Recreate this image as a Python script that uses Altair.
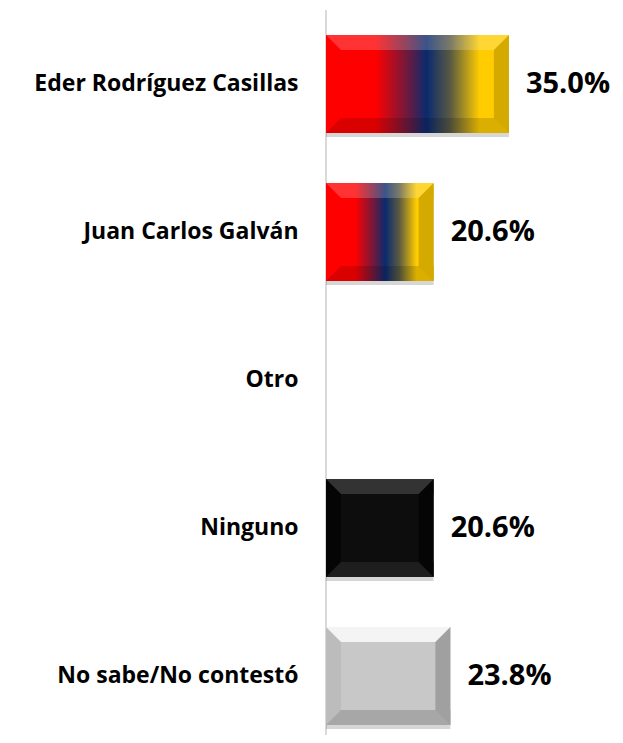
import altair as alt
import pandas as pd

categories = ["Eder Rodríguez Casillas", "Juan Carlos Galván", "Otro", "Ninguno", "No sabe/No contestó"]
values = [35.0, 20.6, 0.0, 20.6, 23.8]
value_labels = ["35.0%", "20.6%", "", "20.6%", "23.8%"]

df = pd.DataFrame({"cat": categories, "v": values, "lab": value_labels})

flag = alt.LinearGradient(
    gradient="linear", x1=0, x2=1, y1=0, y2=0,
    stops=[
        alt.GradientStop(offset=0.0, color="#FF0000"),
        alt.GradientStop(offset=0.27, color="#FF0000"),
        alt.GradientStop(offset=0.45, color="#6A1A40"),
        alt.GradientStop(offset=0.55, color="#0A2A6E"),
        alt.GradientStop(offset=0.68, color="#5A5A42"),
        alt.GradientStop(offset=0.84, color="#FFCC00"),
        alt.GradientStop(offset=1.0, color="#FFCC00"),
    ],
)

# style per category: face fill, bevel overlays (color, opacity), solid side colours for corners
STYLE = {
    "flag": dict(face=flag, top=("white", 0.2), bottom=("black", 0.14), left=("black", 0.0),
                 right=("black", 0.17), lc="#FF0000", rc="#D4A900"),
    "black": dict(face="#0D0D0D", top=("white", 0.16), bottom=("white", 0.07), left=("black", 0.6),
                  right=("black", 0.6), lc="#050505", rc="#050505"),
    "grey": dict(face="#C8C8C8", top=("white", 0.8), bottom=("black", 0.16), left=("black", 0.06),
                 right=("black", 0.2), lc="#BCBCBC", rc="#A0A0A0"),
}
STYLE_OF = {
    "Eder Rodríguez Casillas": "flag",
    "Juan Carlos Galván": "flag",
    "Ninguno": "black",
    "No sabe/No contestó": "grey",
}

BAR_H = 98
BEVEL = 15
EDGE = (BAR_H - BEVEL) / 2

TRI_TL = "M-1,-1L-1,1L1,1Z"
TRI_BL = "M-1,-1L1,-1L-1,1Z"
TRI_TR = "M1,-1L1,1L-1,1Z"
TRI_BR = "M-1,-1L1,-1L1,1Z"

y_enc = alt.Y(
    "cat:N",
    sort=categories,
    scale=alt.Scale(domain=categories, paddingInner=0.338, paddingOuter=0.068),
    axis=alt.Axis(
        title=None, ticks=False, tickSize=0, domain=False, grid=False,
        labelFont="Open Sans", labelFontWeight="bold", labelFontSize=23,
        labelColor="black", labelPadding=28, labelLimit=400,
    ),
)
x_scale = alt.Scale(domain=[0, 55.3])
x_enc = alt.X("v:Q", scale=x_scale, axis=None)
z_enc = alt.X("z:Q", scale=x_scale, axis=None)

base = alt.Chart(df).transform_calculate(z="0")

layers = []
layers.append(
    base.mark_rule(color="#D9D9D9", strokeWidth=2).encode(
        x=z_enc, y=alt.value(-15), y2=alt.value(722)
    )
)

for cat, key in STYLE_OF.items():
    s = STYLE[key]
    b = base.transform_filter(alt.datum.cat == cat)
    # shadow
    layers.append(b.mark_bar(color="#000000", opacity=0.16, yOffset=4, y2Offset=4).encode(
        x=x_enc, x2="z:Q", y=y_enc))
    # face
    layers.append(b.mark_bar(fill=s["face"]).encode(x=x_enc, x2="z:Q", y=y_enc))
    # top bevel
    c, o = s["top"]
    layers.append(b.mark_bar(color=c, opacity=o, height=BEVEL, yOffset=-EDGE).encode(
        x=x_enc, x2="z:Q", y=y_enc))
    # bottom bevel
    c, o = s["bottom"]
    layers.append(b.mark_bar(color=c, opacity=o, height=BEVEL, yOffset=EDGE).encode(
        x=x_enc, x2="z:Q", y=y_enc))
    # left bevel
    c, o = s["left"]
    if o > 0:
        layers.append(b.mark_bar(color=c, opacity=o, height=BAR_H - 2 * BEVEL, xOffset=BEVEL).encode(
            x=z_enc, x2="z:Q", y=y_enc))
    # right bevel
    c, o = s["right"]
    layers.append(b.mark_bar(color=c, opacity=o, height=BAR_H - 2 * BEVEL, xOffset=-BEVEL).encode(
        x=x_enc, x2="v:Q", y=y_enc))
    # mitred corners
    for shape, xe, dx, dy, col in [
        (TRI_TL, z_enc, BEVEL / 2, -EDGE, s["lc"]),
        (TRI_BL, z_enc, BEVEL / 2, EDGE, s["lc"]),
        (TRI_TR, x_enc, -BEVEL / 2, -EDGE, s["rc"]),
        (TRI_BR, x_enc, -BEVEL / 2, EDGE, s["rc"]),
    ]:
        layers.append(b.mark_point(shape=shape, size=BEVEL * BEVEL, filled=True, color=col,
                                   opacity=1, strokeWidth=0, xOffset=dx, yOffset=dy).encode(
            x=xe, y=y_enc))

layers.append(
    base.transform_filter(alt.datum.v > 0).mark_text(
        align="left", baseline="middle", dx=17, font="Open Sans", fontWeight="bold",
        fontSize=29, color="black",
    ).encode(x=x_enc, y=y_enc, text="lab:N")
)

chart = alt.layer(*layers).properties(
    width=289, height=710,
    autosize=alt.AutoSizeParams(type="none"),
    padding={"left": 318, "top": 17, "right": 0, "bottom": 0},
).configure_view(strokeWidth=0)

chart.save("out.html", embed_options={"renderer": "svg", "actions": False})
